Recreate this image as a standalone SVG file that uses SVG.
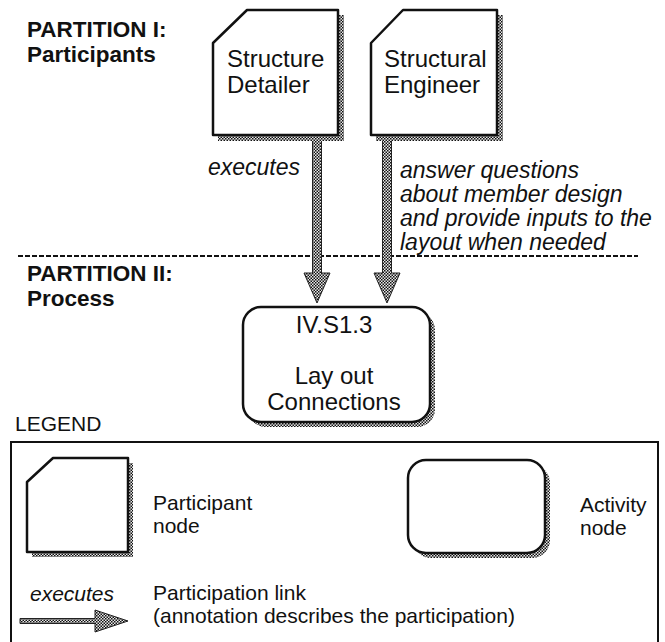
<svg xmlns="http://www.w3.org/2000/svg" width="665" height="642" viewBox="0 0 665 642">
<style>
text{font-family:"Liberation Sans",Arial,Helvetica,sans-serif;fill:#111}
.title{font-weight:bold;font-size:22.5px}
.node{font-size:24px}
.ann{font-size:23px;font-style:italic}
.leg{font-size:21px}
.shape{fill:#fff;stroke:#111;stroke-width:2.5;stroke-linejoin:round}
.shadow{fill:url(#chk)}
.link{fill:url(#chk);stroke:#222;stroke-width:1}
</style>
<defs>
<pattern id="chk" width="3" height="3" patternUnits="userSpaceOnUse">
<rect width="3" height="3" fill="#e8e8e8"/>
<rect width="1.5" height="1.5" fill="#111"/>
<rect x="1.5" y="1.5" width="1.5" height="1.5" fill="#111"/>
</pattern>
</defs>
<rect width="665" height="642" fill="#fff"/>

<g id="partition-labels">
<text class="title" x="27" y="37">PARTITION I:</text>
<text class="title" x="27" y="62">Participants</text>
<text class="title" x="27" y="281">PARTITION II:</text>
<text class="title" x="27" y="306">Process</text>
<line x1="18" y1="256" x2="638" y2="256" stroke="#111" stroke-width="2" stroke-dasharray="5 2"/>
</g>

<g id="connectors">
<path class="link" d="M312.5,138 V273 H304 L317,303 L330,273 H321.5 V138 Z"/>
<path class="link" d="M382.5,138 V273 H374 L387,303 L400,273 H391.5 V138 Z"/>
<text class="ann" x="208" y="175">executes</text>
<text class="ann" x="400" y="178">answer questions</text>
<text class="ann" x="400" y="202">about member design</text>
<text class="ann" x="400" y="226">and provide inputs to the</text>
<text class="ann" x="400" y="250">layout when needed</text>
</g>

<g id="node-structure-detailer">
<path class="shadow" d="M252,15 H344 V141 H218 V48 Z"/>
<path class="shape" d="M247,10 H338 V135 H213 V43 Z"/>
<text class="node" x="227" y="67">Structure</text>
<text class="node" x="227" y="93">Detailer</text>
</g>

<g id="node-structural-engineer">
<path class="shadow" d="M408,15 H503 V141 H376 V48 Z"/>
<path class="shape" d="M403,10 H497 V135 H371 V43 Z"/>
<text class="node" x="384" y="67">Structural</text>
<text class="node" x="384" y="93">Engineer</text>
</g>

<g id="node-activity">
<rect class="shadow" x="248" y="312" width="187" height="115" rx="18"/>
<rect class="shape" x="243" y="307" width="187" height="115" rx="18"/>
<text class="node" x="334" y="333" text-anchor="middle">IV.S1.3</text>
<text class="node" x="334" y="384" text-anchor="middle">Lay out</text>
<text class="node" x="334" y="410" text-anchor="middle">Connections</text>
</g>

<g id="legend">
<text class="leg" x="15" y="431">LEGEND</text>
<rect x="11" y="442" width="647" height="220" fill="none" stroke="#111" stroke-width="2"/>
<path class="shadow" d="M58,463 H133 V557 H32 V487 Z"/>
<path class="shape" d="M53,458 H128 V552 H27 V482 Z"/>
<text class="leg" x="153" y="510">Participant</text>
<text class="leg" x="153" y="533">node</text>
<rect class="shadow" x="413" y="465" width="137" height="93" rx="18"/>
<rect class="shape" x="408" y="460" width="137" height="93" rx="18"/>
<text class="leg" x="580" y="512">Activity</text>
<text class="leg" x="580" y="535">node</text>
<text class="leg" x="30" y="601" font-style="italic" font-size="20">executes</text>
<path class="link" d="M20,618.5 H95 V610 L128,621 L95,632 V623.5 H20 Z"/>
<text class="leg" x="153" y="600">Participation link</text>
<text class="leg" x="153" y="623">(annotation describes the participation)</text>
</g>
</svg>
